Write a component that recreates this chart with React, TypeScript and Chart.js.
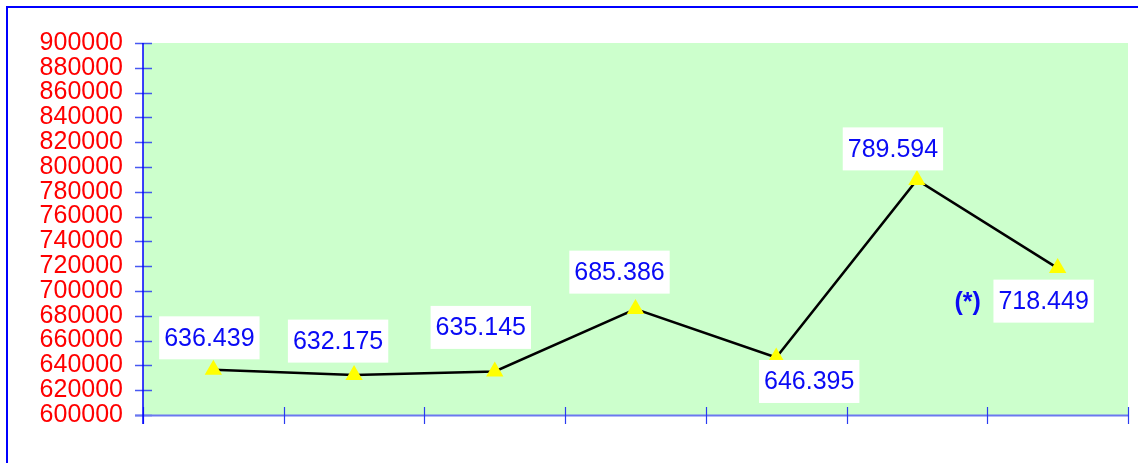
import React, { useEffect, useRef } from "react";
import { Chart, registerables } from "chart.js";

Chart.register(...registerables);

// ---- data ----
const categories = ["1", "2", "3", "4", "5", "6", "7"];
const values = [636439, 632175, 635145, 685386, 646395, 789594, 718449];
const yMin = 600000;
const yMax = 900000;
const yStep = 20000;
const noteText = "(*)";
const noteIndex = 6;

// ---- styling for labels (box centre offset from point, px) ----
const labelOffsets: [number, number][] = [
  [-4, -32],
  [-16, -34],
  [-14, -44],
  [-16, -37],
  [33, 24],
  [-24, -31],
  [-14, 33],
];
const noteOffset: [number, number] = [-90, 34];

const FONT = '"Liberation Sans", Arial, Helvetica, sans-serif';

function fmt(v: number): string {
  return String(v).replace(/\B(?=(\d{3})+(?!\d))/g, ".");
}

const framePlugin = {
  id: "framePlugin",
  beforeDraw(chart: any) {
    const { ctx, chartArea } = chart;
    ctx.save();
    ctx.fillStyle = "#ccffcc";
    ctx.fillRect(chartArea.left, chartArea.top, chartArea.right - chartArea.left, chartArea.bottom - chartArea.top);
    ctx.restore();
  },
  afterDatasetsDraw(chart: any) {
    const { ctx, chartArea, scales } = chart;
    const x = scales.x;
    const y = scales.y;
    ctx.save();
    // y axis ticks
    ctx.strokeStyle = "rgba(40,60,240,0.85)";
    ctx.lineWidth = 1.5;
    for (let v = yMin; v <= yMax; v += yStep) {
      const py = Math.round(y.getPixelForValue(v)) + 0.5;
      ctx.beginPath();
      ctx.moveTo(chartArea.left - 8, py);
      ctx.lineTo(chartArea.left + 9, py);
      ctx.stroke();
    }
    // x axis line
    ctx.strokeStyle = "#6a78f0";
    ctx.lineWidth = 2;
    ctx.beginPath();
    ctx.moveTo(chartArea.left - 8, chartArea.bottom + 0.5);
    ctx.lineTo(chartArea.right, chartArea.bottom + 0.5);
    ctx.stroke();
    // x ticks at category boundaries
    ctx.strokeStyle = "#2a3cf0";
    ctx.lineWidth = 1.2;
    for (let i = 0; i <= categories.length; i++) {
      const px = Math.round(x.getPixelForValue(i - 0.5)) + 0.5;
      ctx.beginPath();
      ctx.moveTo(px, chartArea.bottom - 8);
      ctx.lineTo(px, chartArea.bottom + 9);
      ctx.stroke();
    }
    // y axis line
    ctx.strokeStyle = "#0000ff";
    ctx.lineWidth = 1.5;
    ctx.beginPath();
    ctx.moveTo(chartArea.left, chartArea.top);
    ctx.lineTo(chartArea.left, chartArea.bottom + 9);
    ctx.stroke();

    // data labels
    const meta = chart.getDatasetMeta(0);
    ctx.font = `25px ${FONT}`;
    ctx.textAlign = "center";
    ctx.textBaseline = "middle";
    meta.data.forEach((pt: any, i: number) => {
      const text = fmt(values[i]);
      const [dx, dy] = labelOffsets[i];
      const cx = pt.x + dx;
      const cy = pt.y + dy;
      const w = ctx.measureText(text).width + 10;
      const h = 43;
      ctx.fillStyle = "#ffffff";
      ctx.fillRect(cx - w / 2, cy - h / 2, w, h);
      ctx.fillStyle = "#0a0af5";
      ctx.fillText(text, cx, cy + 1);
    });
    const np = meta.data[noteIndex];
    ctx.font = `bold 25px ${FONT}`;
    ctx.fillStyle = "#0a0af5";
    ctx.fillText(noteText, np.x + noteOffset[0], np.y + noteOffset[1] + 1);

    // outer frame
    ctx.fillStyle = "#0000ff";
    ctx.fillRect(6, 6, chart.width - 6, 2);
    ctx.fillRect(6, 6, 2, chart.height - 6);
    ctx.restore();
  },
};

export default function App() {
  const ref = useRef<HTMLCanvasElement | null>(null);
  useEffect(() => {
    if (!ref.current) return;
    const chart = new Chart(ref.current, {
      type: "line",
      data: {
        labels: categories,
        datasets: [
          {
            data: values,
            borderColor: "#000000",
            borderWidth: 2.5,
            tension: 0,
            pointStyle: "triangle",
            pointRadius: 10,
            pointHoverRadius: 10,
            pointBackgroundColor: "#ffff00",
            pointBorderColor: "#ffff00",
            pointBorderWidth: 0,
          },
        ],
      },
      options: {
        animation: false,
        responsive: false,
        events: [],
        layout: { padding: { top: 43, right: 5, left: 0, bottom: 0 } },
        plugins: {
          legend: { display: false },
          tooltip: { enabled: false },
        },
        scales: {
          x: {
            type: "category",
            offset: true,
            grid: { display: false },
            border: { display: false },
            ticks: { display: false },
            afterFit(scale: any) {
              scale.height = 48;
              scale.paddingLeft = 0;
              scale.paddingRight = 0;
            },
          },
          y: {
            min: yMin,
            max: yMax,
            grid: { display: false },
            border: { display: false },
            ticks: {
              stepSize: yStep,
              autoSkip: false,
              padding: 12,
              color: "#ff0000",
              font: { family: FONT, size: 25, lineHeight: 1 },
              callback: (v: any) => String(v),
            },
            afterFit(scale: any) {
              scale.width = 143;
            },
          },
        },
      },
      plugins: [framePlugin],
    });
    return () => chart.destroy();
  }, []);
  return (
    <div style={{ position: "fixed", left: 0, top: 0, width: 1138, height: 463, background: "#ffffff" }}>
      <canvas ref={ref} width={1138} height={463} />
    </div>
  );
}
